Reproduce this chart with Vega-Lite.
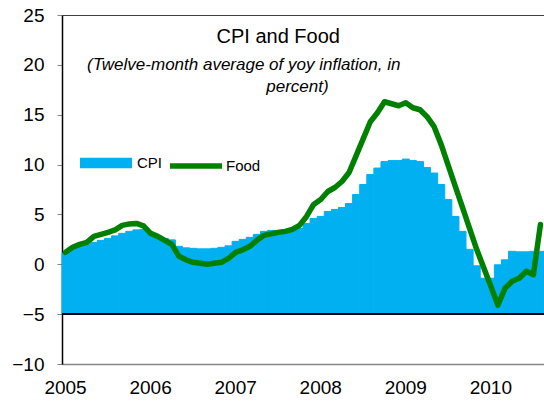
{
  "$schema": "https://vega.github.io/schema/vega-lite/v6.json",
  "width": 482,
  "height": 349,
  "autosize": {"type": "none"},
  "padding": {"left": 62, "top": 15, "right": 0, "bottom": 39},
  "background": "white",
  "config": {
    "font": "Liberation Sans",
    "view": {"stroke": "#404040", "strokeWidth": 1},
    "axis": {"labelFont": "Liberation Sans", "labelColor": "black", "labelFontSize": 19, "title": null, "grid": false}
  },
  "data": {"values": [
    {"month": "2005-01", "cpi": 1.1, "food": 1.2},
    {"month": "2005-02", "cpi": 1.5, "food": 1.7},
    {"month": "2005-03", "cpi": 1.8, "food": 2.0},
    {"month": "2005-04", "cpi": 2.0, "food": 2.2},
    {"month": "2005-05", "cpi": 2.2, "food": 2.8},
    {"month": "2005-06", "cpi": 2.4, "food": 3.0},
    {"month": "2005-07", "cpi": 2.6, "food": 3.2},
    {"month": "2005-08", "cpi": 2.85, "food": 3.45},
    {"month": "2005-09", "cpi": 3.1, "food": 3.9},
    {"month": "2005-10", "cpi": 3.3, "food": 4.05},
    {"month": "2005-11", "cpi": 3.45, "food": 4.1},
    {"month": "2005-12", "cpi": 3.5, "food": 3.85},
    {"month": "2006-01", "cpi": 3.2, "food": 3.1},
    {"month": "2006-02", "cpi": 2.9, "food": 2.8},
    {"month": "2006-03", "cpi": 2.6, "food": 2.4},
    {"month": "2006-04", "cpi": 2.45, "food": 2.0},
    {"month": "2006-05", "cpi": 1.8, "food": 0.8},
    {"month": "2006-06", "cpi": 1.65, "food": 0.45},
    {"month": "2006-07", "cpi": 1.6, "food": 0.2},
    {"month": "2006-08", "cpi": 1.55, "food": 0.1},
    {"month": "2006-09", "cpi": 1.55, "food": 0.0},
    {"month": "2006-10", "cpi": 1.6, "food": 0.1},
    {"month": "2006-11", "cpi": 1.7, "food": 0.2},
    {"month": "2006-12", "cpi": 1.85, "food": 0.6},
    {"month": "2007-01", "cpi": 2.3, "food": 1.2},
    {"month": "2007-02", "cpi": 2.5, "food": 1.45},
    {"month": "2007-03", "cpi": 2.7, "food": 1.8},
    {"month": "2007-04", "cpi": 3.0, "food": 2.4},
    {"month": "2007-05", "cpi": 3.3, "food": 2.9},
    {"month": "2007-06", "cpi": 3.4, "food": 3.05},
    {"month": "2007-07", "cpi": 3.4, "food": 3.2},
    {"month": "2007-08", "cpi": 3.45, "food": 3.3},
    {"month": "2007-09", "cpi": 3.5, "food": 3.5},
    {"month": "2007-10", "cpi": 3.6, "food": 3.9},
    {"month": "2007-11", "cpi": 4.1, "food": 4.8},
    {"month": "2007-12", "cpi": 4.6, "food": 6.0},
    {"month": "2008-01", "cpi": 4.8, "food": 6.5},
    {"month": "2008-02", "cpi": 5.3, "food": 7.3},
    {"month": "2008-03", "cpi": 5.5, "food": 7.7},
    {"month": "2008-04", "cpi": 5.7, "food": 8.3},
    {"month": "2008-05", "cpi": 6.1, "food": 9.2},
    {"month": "2008-06", "cpi": 7.0, "food": 10.9},
    {"month": "2008-07", "cpi": 8.0, "food": 12.6},
    {"month": "2008-08", "cpi": 9.0, "food": 14.3},
    {"month": "2008-09", "cpi": 9.65, "food": 15.2},
    {"month": "2008-10", "cpi": 10.3, "food": 16.3},
    {"month": "2008-11", "cpi": 10.4, "food": 16.1},
    {"month": "2008-12", "cpi": 10.4, "food": 15.9},
    {"month": "2009-01", "cpi": 10.55, "food": 16.2},
    {"month": "2009-02", "cpi": 10.4, "food": 15.7},
    {"month": "2009-03", "cpi": 10.3, "food": 15.5},
    {"month": "2009-04", "cpi": 9.7, "food": 14.8},
    {"month": "2009-05", "cpi": 9.15, "food": 13.8},
    {"month": "2009-06", "cpi": 8.0, "food": 12.0},
    {"month": "2009-07", "cpi": 6.5, "food": 9.9},
    {"month": "2009-08", "cpi": 4.8, "food": 7.8},
    {"month": "2009-09", "cpi": 3.3, "food": 5.7},
    {"month": "2009-10", "cpi": 1.5, "food": 3.6},
    {"month": "2009-11", "cpi": -0.15, "food": 1.5},
    {"month": "2009-12", "cpi": -1.4, "food": -0.35},
    {"month": "2010-01", "cpi": -1.4, "food": -2.2},
    {"month": "2010-02", "cpi": -0.05, "food": -4.1},
    {"month": "2010-03", "cpi": 0.45, "food": -2.4},
    {"month": "2010-04", "cpi": 1.3, "food": -1.7},
    {"month": "2010-05", "cpi": 1.25, "food": -1.4},
    {"month": "2010-06", "cpi": 1.25, "food": -0.7},
    {"month": "2010-07", "cpi": 1.3, "food": -1.05},
    {"month": "2010-08", "cpi": 1.3, "food": 4.0}
  ]},
  "layer": [
    {
      "mark": {"type": "bar", "stroke": "#00B0F0", "strokeWidth": 1},
      "encoding": {
        "x": {
          "field": "month", "type": "ordinal",
          "scale": {"paddingInner": 0, "paddingOuter": 0},
          "axis": {
            "values": ["2005-01", "2006-01", "2007-01", "2008-01", "2009-01", "2010-01"],
            "labelExpr": "slice(datum.value, 0, 4)",
            "ticks": false, "labelAngle": 0, "labelPadding": 14,
            "domainColor": "#868686", "domainWidth": 1.5
          }
        },
        "y": {
          "field": "cpi", "type": "quantitative",
          "scale": {"domain": [-10, 25], "nice": false, "zero": false},
          "axis": {"values": [-10, -5, 0, 5, 10, 15, 20, 25], "domainColor": "black", "domainWidth": 1.5, "tickColor": "#868686", "tickSize": 5, "labelPadding": 13}
        },
        "y2": {"datum": -5},
        "fill": {
          "datum": "CPI", "type": "nominal",
          "scale": {"range": ["#00B0F0"]},
          "legend": {"orient": "none", "legendX": 18, "legendY": 122, "title": null, "symbolType": "M-1,-0.2H1V0.2H-1Z", "symbolSize": 2704, "symbolStrokeWidth": 0, "symbolOpacity": 1, "labelFontSize": 15, "labelColor": "black", "labelOffset": 5, "labelFont": "Liberation Sans"}
        }
      }
    },
    {
      "mark": {"type": "rule", "color": "black", "strokeWidth": 1.5},
      "encoding": {"y": {"datum": -5}}
    },
    {
      "mark": {"type": "line", "strokeWidth": 5.5, "strokeJoin": "round", "strokeCap": "round"},
      "encoding": {
        "x": {"field": "month", "type": "ordinal"},
        "y": {"field": "food", "type": "quantitative"},
        "stroke": {
          "datum": "Food", "type": "nominal",
          "scale": {"range": ["#008000"]},
          "legend": {"orient": "none", "legendX": 105, "legendY": 122, "title": null, "symbolType": "stroke", "symbolSize": 2704, "symbolStrokeWidth": 5.5, "labelFontSize": 15, "labelColor": "black", "labelOffset": 1, "labelFont": "Liberation Sans"}
        }
      }
    },
    {
      "data": {"values": [{}]},
      "mark": {"type": "text", "fontSize": 20, "font": "Liberation Sans", "align": "center", "baseline": "middle", "color": "black"},
      "encoding": {"x": {"datum": "2007-07", "type": "ordinal"}, "y": {"datum": 22.8}, "text": {"value": "CPI and Food"}}
    },
    {
      "data": {"values": [{}]},
      "mark": {"type": "text", "fontSize": 17, "font": "Liberation Sans", "fontStyle": "italic", "align": "center", "baseline": "middle", "color": "black", "dx": 1},
      "encoding": {"x": {"datum": "2007-02", "type": "ordinal"}, "y": {"datum": 20.0}, "text": {"value": "(Twelve-month average of yoy inflation, in"}}
    },
    {
      "data": {"values": [{}]},
      "mark": {"type": "text", "fontSize": 17, "font": "Liberation Sans", "fontStyle": "italic", "align": "center", "baseline": "middle", "color": "black", "dx": -2},
      "encoding": {"x": {"datum": "2007-10", "type": "ordinal"}, "y": {"datum": 17.8}, "text": {"value": "percent)"}}
    }
  ]
}
